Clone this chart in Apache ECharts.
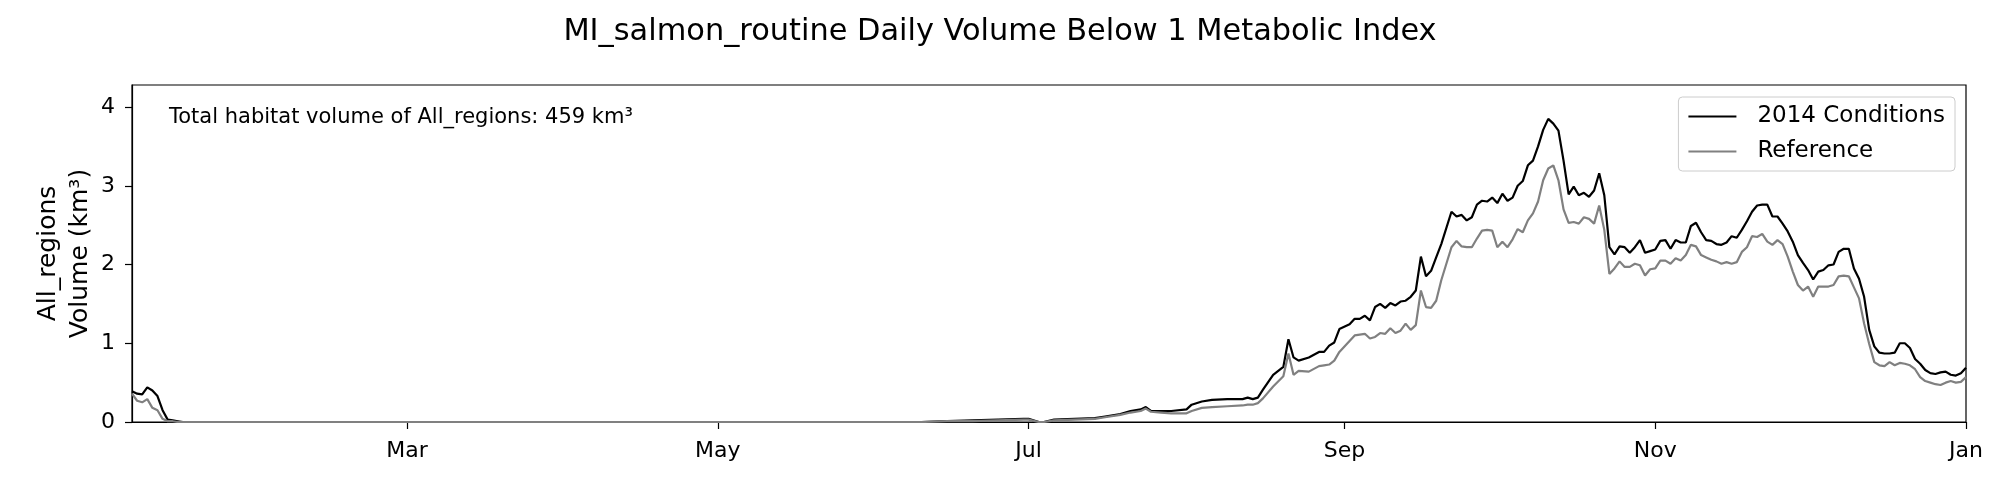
<!DOCTYPE html>
<html>
<head>
<meta charset="utf-8">
<script src="https://cdn.jsdelivr.net/npm/echarts@6.0.0/dist/echarts.min.js"></script>
<style>
	html, body { margin: 0; padding: 0; background: #fff; }
	#chart { width: 2000px; height: 478px; }
</style>
</head>
<body>
<div id="chart"></div>
<script>
//day of year (0 = Jan 1 2014) for each reading
var dayOfYear = [5,6,7,8,9,10,11,12,13,14,15,160,165,170,175,180,181,183,184,186,190,194,196,199,201,203,204,205,207,209,212,213,215,217,220,223,224,225,226,227,229,231,232,233,234,236,238,239,240,241,242,244,245,246,247,248,249,250,251,252,253,254,255,256,257,258,259,260,261,262,264,265,266,267,268,269,270,271,272,273,274,275,276,277,278,279,280,281,282,283,284,285,286,287,288,289,290,291,292,293,294,295,296,297,298,299,300,301,302,303,304,305,306,307,308,309,310,311,312,313,314,315,316,317,318,319,320,321,322,323,324,325,326,327,328,329,330,331,332,333,334,335,336,337,338,339,340,341,342,343,344,345,346,347,348,349,350,351,352,353,354,355,356,357,358,359,360,361,362,363,364,365];

//daily volume below MI 1, km3
var conditions2014 = [0.39,0.36,0.35,0.44,0.40,0.33,0.15,0.03,0.02,0.01,0,0,0.01,0.02,0.03,0.04,0.04,0,0,0.03,0.04,0.05,0.07,0.10,0.14,0.16,0.19,0.14,0.14,0.14,0.16,0.22,0.26,0.28,0.29,0.29,0.31,0.29,0.31,0.41,0.60,0.70,1.05,0.82,0.78,0.82,0.89,0.89,0.97,1.01,1.18,1.24,1.31,1.31,1.35,1.29,1.46,1.50,1.45,1.51,1.48,1.53,1.54,1.59,1.67,2.10,1.85,1.92,2.09,2.26,2.67,2.61,2.63,2.56,2.60,2.76,2.81,2.80,2.85,2.78,2.90,2.81,2.85,3.00,3.06,3.26,3.32,3.50,3.71,3.85,3.79,3.70,3.32,2.89,2.99,2.88,2.91,2.86,2.94,3.16,2.88,2.22,2.13,2.23,2.22,2.15,2.22,2.31,2.15,2.17,2.19,2.30,2.31,2.20,2.31,2.28,2.28,2.49,2.53,2.41,2.31,2.30,2.26,2.25,2.28,2.36,2.34,2.44,2.55,2.67,2.75,2.76,2.76,2.61,2.61,2.52,2.42,2.29,2.12,2.02,1.93,1.81,1.91,1.93,1.99,2.00,2.16,2.20,2.20,1.95,1.82,1.59,1.17,0.96,0.88,0.87,0.87,0.88,1.00,1.00,0.94,0.80,0.74,0.66,0.62,0.61,0.63,0.64,0.60,0.59,0.62,0.69];
var referenceVolume = [0.36,0.27,0.25,0.29,0.18,0.15,0.04,0.01,0.01,0,0,0,0.01,0.01,0.02,0.03,0.03,0,0,0.02,0.03,0.04,0.06,0.09,0.12,0.14,0.17,0.13,0.12,0.11,0.11,0.14,0.18,0.19,0.20,0.21,0.22,0.22,0.24,0.30,0.45,0.58,0.87,0.60,0.65,0.64,0.71,0.72,0.73,0.78,0.89,1.03,1.10,1.11,1.12,1.06,1.08,1.13,1.12,1.19,1.13,1.16,1.25,1.17,1.23,1.67,1.46,1.45,1.54,1.80,2.22,2.30,2.23,2.22,2.22,2.33,2.43,2.44,2.43,2.22,2.29,2.22,2.32,2.45,2.41,2.56,2.65,2.80,3.07,3.22,3.26,3.07,2.70,2.53,2.54,2.52,2.60,2.58,2.52,2.75,2.44,1.88,1.95,2.04,1.97,1.97,2.01,1.99,1.86,1.94,1.95,2.05,2.05,2.01,2.08,2.05,2.12,2.25,2.23,2.12,2.09,2.06,2.04,2.01,2.03,2.01,2.03,2.16,2.22,2.36,2.35,2.39,2.29,2.25,2.31,2.26,2.10,1.91,1.74,1.67,1.72,1.59,1.72,1.72,1.72,1.74,1.85,1.86,1.85,1.71,1.57,1.25,0.99,0.76,0.72,0.71,0.76,0.72,0.75,0.74,0.72,0.67,0.57,0.52,0.50,0.48,0.47,0.50,0.52,0.50,0.51,0.57];

//axis ticks
var monthTickDays = [59, 120, 181, 243, 304, 365];
var monthTickLabels = ["Mar", "May", "Jul", "Sep", "Nov", "Jan"];
var volumeTicks = [0, 1, 2, 3, 4];

var seriesNames = ["2014 Conditions", "Reference"];
var chartTitle = "MI_salmon_routine Daily Volume Below 1 Metabolic Index";
var totalNote = "Total habitat volume of All_regions: 459 km³";

var FONT = "DejaVu Sans";

function pairs(xs, ys){
	var out = [];
	for(var i=0; i<xs.length; i++) out.push([xs[i], ys[i]]);
	return out;
}

var myChart = echarts.init(document.getElementById("chart"), null, {renderer: "canvas"});

myChart.setOption({
	animation: false,
	backgroundColor: "#fff",
	textStyle: {fontFamily: FONT},
	title: [{
		text: chartTitle,
		left: "center",
		top: 12,
		textStyle: {fontFamily: FONT, fontSize: 30.4, fontWeight: "normal", color: "#000"}
	}, {
		text: totalNote,
		left: 169,
		top: 107,
		padding: 0,
		textStyle: {fontFamily: FONT, fontSize: 21, fontWeight: "normal", color: "#000"}
	}],
	legend: {
		data: seriesNames,
		orient: "vertical",
		right: 45,
		top: 97,
		padding: [8, 10, 8, 10],
		icon: "rect",
		itemWidth: 48,
		itemHeight: 2,
		itemGap: 12,
		backgroundColor: "#fff",
		borderColor: "#cccccc",
		borderWidth: 1,
		borderRadius: 4,
		textStyle: {fontFamily: FONT, fontSize: 23, color: "#000", padding: [0, 0, 0, 16]}
	},
	grid: {
		left: 132, right: 34, top: 85, bottom: 56,
		show: true, borderColor: "#000", borderWidth: 1.2, backgroundColor: "transparent"
	},
	xAxis: {
		type: "value",
		min: 5,
		max: 365,
		splitLine: {show: false},
		axisLine: {show: true, lineStyle: {color: "#000", width: 1.2}},
		axisTick: {show: true, length: 7, lineStyle: {color: "#000", width: 1.2}, customValues: monthTickDays},
		axisLabel: {
			customValues: monthTickDays,
			margin: 18,
			fontFamily: FONT, fontSize: 22, color: "#000",
			formatter: function(v){
				var i = monthTickDays.indexOf(Math.round(v));
				return i > -1 ? monthTickLabels[i] : "";
			}
		}
	},
	yAxis: {
		type: "value",
		min: 0,
		max: 4.28,
		name: "All_regions\nVolume (km³)",
		nameLocation: "middle",
		nameRotate: 90,
		nameGap: 36,
		nameMoveOverlap: false,
		nameTextStyle: {fontFamily: FONT, fontSize: 25, color: "#000", lineHeight: 32},
		splitLine: {show: false},
		axisLine: {show: true, lineStyle: {color: "#000", width: 1.2}},
		axisTick: {show: true, length: 7, lineStyle: {color: "#000", width: 1.2}, customValues: volumeTicks},
		axisLabel: {customValues: volumeTicks, margin: 17, fontFamily: FONT, fontSize: 22, color: "#000"}
	},
	series: [{
		name: seriesNames[0],
		type: "line",
		symbol: "none",
		data: pairs(dayOfYear, conditions2014),
		lineStyle: {color: "#000", width: 2.2},
		itemStyle: {color: "#000"}
	}, {
		name: seriesNames[1],
		type: "line",
		symbol: "none",
		data: pairs(dayOfYear, referenceVolume),
		lineStyle: {color: "#808080", width: 2.2},
		itemStyle: {color: "#808080"}
	}]
});
</script>
</body>
</html>
